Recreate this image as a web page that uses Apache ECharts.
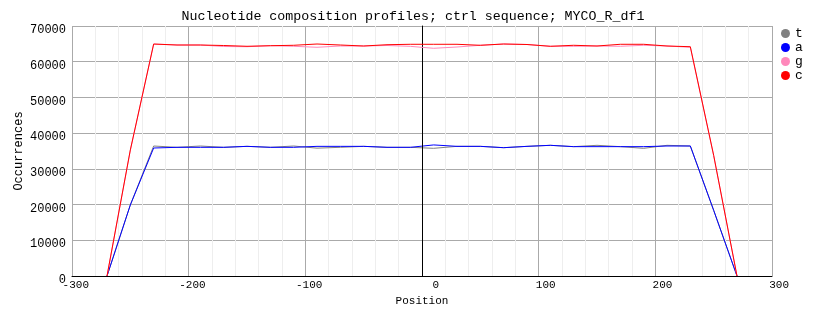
<!DOCTYPE html>
<html>
<head>
<meta charset="utf-8">
<script src="https://cdn.jsdelivr.net/npm/echarts@6/dist/echarts.min.js"></script>
<style>
  html, body { margin: 0; padding: 0; background: #ffffff; }
  #chart { width: 828px; height: 328px; }
</style>
</head>
<body>
<div id="chart"></div>
<script>
// Positions (x) of the profile points
const positions = [-270, -250, -230, -210, -190, -170, -150, -130, -110, -90, -70, -50, -30, -10,
                   10, 30, 50, 70, 90, 110, 130, 150, 170, 190, 210, 230, 250, 270];
// Occurrences per nucleotide
const tValues = [0, 19900, 36400, 36030, 36400, 36030, 36300, 36030, 36400, 35800, 36030, 36300, 36030, 36030,
                 35750, 36300, 36300, 35930, 36300, 36590, 36220, 36590, 36220, 35750, 36590, 36400, 18400, 0];
const aValues = [0, 19900, 35840, 36030, 36030, 36030, 36300, 36030, 36030, 36300, 36300, 36300, 36030, 36030,
                 36700, 36300, 36300, 35930, 36300, 36590, 36220, 36220, 36220, 36220, 36400, 36400, 18400, 0];
const gValues = [0, 35200, 64950, 64680, 64680, 64260, 64200, 64480, 64320, 64040, 64400, 64400, 64540, 64300,
                 63760, 64120, 64600, 64960, 64820, 64320, 64320, 64400, 64320, 64600, 64400, 64040, 33700, 0];
const cValues = [0, 35300, 64950, 64680, 64680, 64540, 64320, 64480, 64600, 64960, 64680, 64400, 64760, 64880,
                 64880, 64880, 64600, 64960, 64820, 64320, 64600, 64400, 64880, 64880, 64400, 64200, 33800, 0];
const seriesNames = ['t', 'a', 'g', 'c'];
const seriesColors = ['#808080', '#0000ff', '#ff88bb', '#ff0000'];
const titleText = 'Nucleotide composition profiles; ctrl sequence; MYCO_R_df1';

const FONT = 'Liberation Mono, DejaVu Sans Mono, monospace';
const valueSets = [tValues, aValues, gValues, cValues];

const series = seriesNames.map((name, i) => {
  const s = {
    name: name,
    type: 'line',
    data: positions.map((p, k) => [p, valueSets[i][k]]),
    symbol: 'none',
    showSymbol: false,
    lineStyle: { color: seriesColors[i], width: 1 },
    itemStyle: { color: seriesColors[i] },
    emphasis: { disabled: true },
    animation: false,
    z: 3 + i
  };
  if (i === 0) {
    s.markLine = {
      silent: true,
      symbol: 'none',
      label: { show: false },
      lineStyle: { color: '#000000', width: 1, type: 'solid' },
      data: [{ xAxis: 0 }],
      animation: false
    };
  }
  return s;
});

const chart = echarts.init(document.getElementById('chart'), null, { renderer: 'canvas' });
chart.setOption({
  backgroundColor: '#ffffff',
  animation: false,
  title: {
    text: titleText,
    left: 408,
    textAlign: 'center',
    top: 5,
    textStyle: { fontFamily: FONT, fontSize: 13.3, fontWeight: 'normal', color: '#000000' }
  },
  legend: {
    orient: 'vertical',
    left: 776,
    top: 22,
    itemWidth: 9,
    itemHeight: 9,
    itemGap: 1,
    icon: 'circle',
    data: seriesNames,
    textStyle: { fontFamily: FONT, fontSize: 13, color: '#000000' }
  },
  grid: { left: 72, right: 56, top: 26, bottom: 52, containLabel: false, outerBoundsMode: 'none' },
  xAxis: {
    type: 'value',
    min: -300,
    max: 300,
    interval: 100,
    name: 'Position',
    nameLocation: 'middle',
    nameGap: 20,
    nameTextStyle: { fontFamily: FONT, fontSize: 11, color: '#000000' },
    axisLine: { show: true, onZero: false, lineStyle: { color: '#000000', width: 1 } },
    axisTick: { show: false },
    axisLabel: { fontFamily: FONT, fontSize: 11, color: '#000000', margin: 4, align: 'right', padding: [0, -17, 0, 0] },
    splitLine: { show: true, lineStyle: { color: '#aaaaaa', width: 1 } },
    minorTick: { show: false, splitNumber: 5 },
    minorSplitLine: { show: true, lineStyle: { color: '#eeeeee', width: 1 } }
  },
  yAxis: {
    type: 'value',
    min: 0,
    max: 70000,
    interval: 10000,
    name: 'Occurrences',
    nameLocation: 'middle',
    nameGap: 47,
    nameMoveOverlap: false,
    nameTextStyle: { fontFamily: FONT, fontSize: 12, color: '#000000' },
    axisLine: { show: true, lineStyle: { color: '#000000', width: 1 } },
    axisTick: { show: false },
    axisLabel: {
      fontFamily: FONT, fontSize: 12, color: '#000000', margin: 6,
      verticalAlign: 'top', padding: [-2, 0, 0, 0],
      formatter: v => String(v)
    },
    splitLine: { show: true, lineStyle: { color: '#aaaaaa', width: 1 } }
  },
  series: series
});
</script>
</body>
</html>
